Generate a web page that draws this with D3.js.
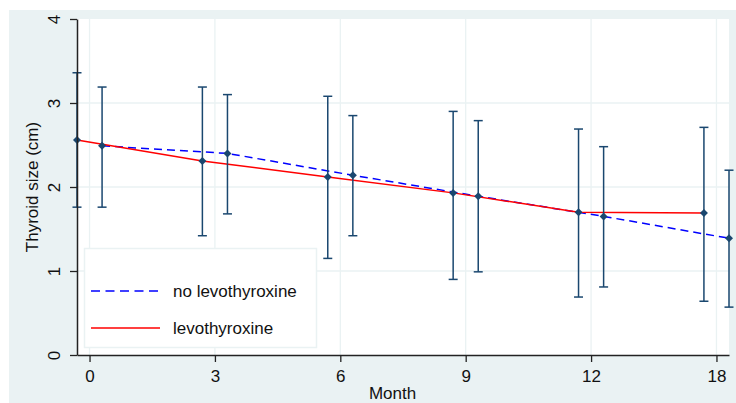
<!DOCTYPE html>
<html>
  <head>
    <title>Thyroid size by month</title>
    <style>
      body {
        margin: 0;
        padding: 0;
        overflow: hidden;
        background: #fff;
      }
      svg {
        display: block;
        font-family: 'Liberation Sans', Arial, sans-serif;
      }
    </style>
    <script src="https://unpkg.com/d3@7.8.5/dist/d3.min.js"></script>
  </head>
  <body>
    <svg width="736" height="403"></svg>
    <script>
      // Datos
      const months = ['0', '3', '6', '9', '12', '18'];
      const seriesNames = ['no levothyroxine', 'levothyroxine'];

      // no levothyroxine (desplazado a la derecha)
      const noLevoMean = [2.49, 2.40, 2.14, 1.89, 1.65, 1.39];
      const noLevoUpper = [3.19, 3.10, 2.85, 2.79, 2.48, 2.20];
      const noLevoLower = [1.76, 1.68, 1.42, 0.99, 0.81, 0.57];

      // levothyroxine (desplazado a la izquierda)
      const levoMean = [2.56, 2.31, 2.12, 1.93, 1.70, 1.69];
      const levoUpper = [3.36, 3.19, 3.08, 2.90, 2.69, 2.71];
      const levoLower = [1.76, 1.42, 1.15, 0.90, 0.69, 0.64];

      const yTicks = [0, 1, 2, 3, 4];

      const svg = d3.select('svg');
      const width = 736;
      const height = 403;
      const margin = { top: 19, right: 7, bottom: 48, left: 77 };
      const bg = '#eaf2f3';
      const navy = '#1a476f';

      // Fondo exterior
      svg.append('rect')
        .attr('x', 9).attr('y', 10)
        .attr('width', width - 9).attr('height', height - 10)
        .attr('fill', bg);

      const x = d3.scaleLinear()
        .domain([-0.1, months.length - 1 + 0.1])
        .range([margin.left, width - margin.right]);
      const y = d3.scaleLinear()
        .domain([0, 4])
        .range([height - margin.bottom, margin.top]);

      // Área del gráfico
      svg.append('rect')
        .attr('x', x.range()[0]).attr('y', y(4))
        .attr('width', x.range()[1] - x.range()[0])
        .attr('height', y(0) - y(4))
        .attr('fill', '#fff');

      // Rejilla
      svg.append('g')
        .selectAll('line')
        .data(months.map((d, i) => i))
        .enter()
        .append('line')
        .attr('x1', d => x(d)).attr('x2', d => x(d))
        .attr('y1', y(4)).attr('y2', y(0))
        .attr('stroke', bg).attr('stroke-width', 1.3);
      svg.append('g')
        .selectAll('line')
        .data([1, 2, 3])
        .enter()
        .append('line')
        .attr('x1', x.range()[0]).attr('x2', x.range()[1])
        .attr('y1', d => y(d)).attr('y2', d => y(d))
        .attr('stroke', bg).attr('stroke-width', 1.3);

      const groups = [
        { name: seriesNames[0], offset: 0.1, mean: noLevoMean, lo: noLevoLower, hi: noLevoUpper, color: '#0000ff', dash: '8,5' },
        { name: seriesNames[1], offset: -0.1, mean: levoMean, lo: levoLower, hi: levoUpper, color: '#ff0000', dash: null }
      ];

      // Líneas
      groups.forEach(g => {
        const line = d3.line()
          .x((d, i) => x(i + g.offset))
          .y(d => y(d));
        svg.append('path')
          .datum(g.mean)
          .attr('d', line)
          .attr('fill', 'none')
          .attr('stroke', g.color)
          .attr('stroke-width', 1.5)
          .attr('stroke-dasharray', g.dash);
      });

      // Barras de error y puntos
      groups.forEach(g => {
        const eg = svg.append('g');
        g.mean.forEach((m, i) => {
          const cx = x(i + g.offset);
          eg.append('line')
            .attr('x1', cx).attr('x2', cx)
            .attr('y1', y(g.lo[i])).attr('y2', y(g.hi[i]))
            .attr('stroke', navy).attr('stroke-width', 1.5);
          [g.lo[i], g.hi[i]].forEach(v => {
            eg.append('line')
              .attr('x1', cx - 4.5).attr('x2', cx + 4.5)
              .attr('y1', y(v)).attr('y2', y(v))
              .attr('stroke', navy).attr('stroke-width', 1.5);
          });
          eg.append('path')
            .attr('d', d3.symbol(d3.symbolSquare, 32)())
            .attr('transform', `translate(${cx},${y(m)}) rotate(45)`)
            .attr('fill', navy);
        });
      });

      // Ejes
      const xAxis = svg.append('g')
        .attr('transform', `translate(0,${y(0)})`)
        .call(d3.axisBottom(x)
          .tickValues(months.map((d, i) => i))
          .tickFormat((d, i) => months[i])
          .tickSize(7)
          .tickPadding(8)
          .tickSizeOuter(0));
      const yAxis = svg.append('g')
        .attr('transform', `translate(${x.range()[0]},0)`)
        .call(d3.axisLeft(y)
          .tickValues(yTicks)
          .tickFormat(d3.format('d'))
          .tickSize(7)
          .tickSizeOuter(0));

      [xAxis, yAxis].forEach(a => {
        a.select('.domain').attr('stroke', '#222').attr('stroke-width', 1.5);
        a.selectAll('.tick line').attr('stroke', '#222').attr('stroke-width', 1.3);
        a.selectAll('.tick text')
          .attr('fill', '#111')
          .style('font-size', '17px')
          .style('font-family', "'Liberation Sans', Arial, sans-serif");
      });
      yAxis.selectAll('.tick text')
        .attr('transform', 'rotate(-90)')
        .attr('x', 0)
        .attr('y', -17)
        .attr('dy', 0)
        .attr('text-anchor', 'middle');

      // Títulos
      svg.append('text')
        .attr('x', 392.5).attr('y', 399)
        .attr('text-anchor', 'middle')
        .attr('fill', '#111')
        .style('font-size', '17px')
        .text('Month');
      svg.append('text')
        .attr('transform', `translate(38,${y(2)}) rotate(-90)`)
        .attr('text-anchor', 'middle')
        .attr('fill', '#111')
        .style('font-size', '17px')
        .text('Thyroid size (cm)');

      // Leyenda
      const legend = svg.append('g');
      legend.append('rect')
        .attr('x', 84.5).attr('y', 248.5)
        .attr('width', 232).attr('height', 99)
        .attr('fill', '#fff')
        .attr('stroke', bg).attr('stroke-width', 1.5);
      groups.forEach((g, i) => {
        const ly = 291 + i * 37;
        legend.append('line')
          .attr('x1', 91).attr('x2', 160)
          .attr('y1', ly).attr('y2', ly)
          .attr('stroke', g.color)
          .attr('stroke-width', 1.5)
          .attr('stroke-dasharray', g.dash ? '9,5.5' : null);
        legend.append('text')
          .attr('x', 173).attr('y', ly + 6)
          .attr('fill', '#111')
          .style('font-size', '17px')
          .text(g.name);
      });
    </script>
  </body>
</html>
